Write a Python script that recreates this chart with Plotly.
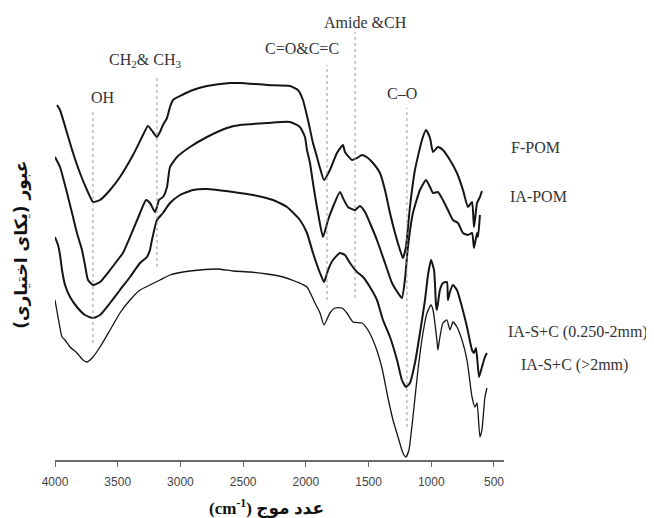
import plotly.graph_objects as go

# ---------------- data (wavenumber cm-1, offset transmittance a.u.) ----------------
wn_fpom = [3984, 3960, 3904, 3856, 3801, 3745, 3697, 3641, 3561, 3482, 3378, 3298, 3259, 3219,
           3187, 3163, 3139, 3107, 3083, 3059, 2987, 2900, 2788, 2605, 2525, 2310, 2126, 2063,
           2023, 1983, 1943, 1911, 1887, 1855, 1808, 1752, 1704, 1688, 1632, 1592, 1552, 1505,
           1465, 1409, 1369, 1329, 1289, 1249, 1226, 1202, 1170, 1130, 1074, 1042, 1010, 986,
           947, 907, 851, 795, 747, 707, 675, 659, 635, 612, 596]
t_fpom = [355, 350, 327, 307, 287, 270, 258, 260, 270, 283, 305, 325, 334, 328,
          323, 328, 335, 342, 353, 360, 365, 370, 374, 377, 377, 375, 374, 370,
          360, 340, 317, 303, 292, 280, 290, 307, 315, 308, 300, 302, 305, 302,
          297, 287, 270, 247, 227, 210, 202, 213, 253, 290, 320, 330, 322, 308,
          313, 310, 300, 287, 270, 253, 258, 233, 257, 263, 269]

wn_iapom = [4000, 3960, 3904, 3864, 3825, 3785, 3761, 3737, 3697, 3641, 3561, 3482, 3458, 3378,
            3322, 3274, 3243, 3203, 3187, 3171, 3139, 3107, 3083, 3027, 2924, 2788, 2629, 2525,
            2310, 2126, 2047, 2007, 1991, 1967, 1943, 1903, 1863, 1823, 1784, 1728, 1704, 1664,
            1608, 1568, 1528, 1489, 1433, 1369, 1313, 1265, 1234, 1210, 1186, 1146, 1090, 1042,
            1010, 986, 947, 907, 867, 827, 787, 747, 707, 675, 659, 635, 627, 612]
t_iapom = [303, 293, 267, 247, 227, 210, 195, 180, 175, 178, 190, 203, 207, 230,
           247, 260, 257, 248, 253, 260, 263, 273, 293, 303, 313, 323, 332, 335,
           337, 338, 333, 323, 310, 297, 277, 247, 223, 240, 253, 268, 262, 253,
           250, 254, 248, 237, 220, 197, 177, 167, 162, 180, 213, 247, 270, 280,
           273, 267, 268, 260, 250, 240, 237, 227, 225, 227, 212, 227, 223, 245]

wn_sc1 = [4000, 3976, 3960, 3944, 3920, 3880, 3825, 3761, 3697, 3641, 3561, 3482, 3402, 3322,
          3267, 3243, 3227, 3187, 3139, 3083, 3003, 2900, 2788, 2581, 2421, 2262, 2150, 2047,
          1991, 1943, 1887, 1855, 1823, 1784, 1728, 1688, 1648, 1592, 1544, 1489, 1433, 1385,
          1329, 1273, 1234, 1202, 1170, 1130, 1090, 1050, 1026, 1002, 978, 962, 955, 931,
          907, 875, 867, 851, 827, 795, 755, 715, 675, 659, 643, 619, 596, 572, 556]
t_sc1 = [223, 215, 205, 190, 175, 163, 153, 145, 142, 145, 157, 170, 183, 197,
         203, 210, 220, 240, 247, 257, 265, 270, 271, 268, 265, 260, 253, 240,
         227, 207, 187, 178, 190, 200, 207, 205, 197, 188, 183, 173, 160, 140,
         123, 100, 80, 73, 77, 97, 127, 160, 185, 200, 190, 155, 150, 170,
         177, 178, 160, 168, 175, 170, 153, 133, 110, 107, 112, 83, 93, 103, 107]

wn_sc2 = [4000, 3976, 3944, 3920, 3880, 3825, 3777, 3745, 3697, 3641, 3561, 3482, 3402, 3322,
          3243, 3163, 3083, 2979, 2844, 2708, 2581, 2445, 2310, 2182, 2071, 1991, 1927, 1887,
          1855, 1808, 1768, 1712, 1672, 1624, 1552, 1505, 1449, 1393, 1345, 1305, 1265, 1226,
          1202, 1178, 1146, 1106, 1066, 1034, 1002, 986, 955, 947, 931, 907, 875, 851,
          827, 795, 755, 715, 675, 651, 635, 612, 596, 572, 556]
t_sc2 = [160, 143, 123, 120, 113, 107, 100, 98, 103, 113, 130, 147, 160, 170,
         175, 180, 185, 188, 190, 191, 189, 188, 186, 183, 178, 173, 157, 147,
         135, 147, 152, 152, 147, 138, 137, 130, 115, 92, 62, 40, 23, 7,
         3, 10, 43, 90, 127, 147, 155, 150, 120, 110, 123, 137, 140, 130,
         138, 133, 120, 100, 63, 53, 57, 23, 30, 63, 72]

series_names = ["F-POM", "IA-POM", "IA-S+C (0.250-2mm)", "IA-S+C (>2mm)"]

# band markers: position (cm-1), line bottom / top (a.u.), label
band_pos = [3697, 3187, 1831, 1608, 1194]
band_low = [117, 193, 160, 162, 33]
band_high = [350, 385, 395, 428, 352]
band_labels = ["OH", "CH<sub>2</sub>& CH<sub>3</sub>", "C=O&C=C", "Amide &CH", "C\u2013O"]
band_label_x = [3617, 3282, 2031, 1528, 1234]
band_label_y = [363, 400, 412, 438, 367]

tick_vals = [4000, 3500, 3000, 2500, 2000, 1500, 1000, 500]

# ---------------- figure ----------------
fig = go.Figure()
xs = [wn_fpom, wn_iapom, wn_sc1, wn_sc2]
ys = [t_fpom, t_iapom, t_sc1, t_sc2]
widths = [2.0, 2.0, 2.0, 1.3]
for x, y, n, w in zip(xs, ys, series_names, widths):
    fig.add_trace(go.Scatter(x=x, y=y, mode="lines", name=n,
                             line=dict(color="#151515", width=w, shape="spline", smoothing=0.5),
                             showlegend=False, hoverinfo="skip"))

for p, lo, hi in zip(band_pos, band_low, band_high):
    fig.add_shape(type="line", x0=p, x1=p, y0=lo, y1=hi, xref="x", yref="y",
                  line=dict(color="#9a9a9a", width=1, dash="dot"))

serif = "Liberation Serif, Times New Roman, serif"
for t, bx, by in zip(band_labels, band_label_x, band_label_y):
    fig.add_annotation(x=bx, y=by, xref="x", yref="y", text=t, showarrow=False,
                       xanchor="center", yanchor="middle",
                       font=dict(family=serif, size=16, color="#333"))

# series labels on the right
label_px = [1.071, 1.076, 1.165, 1.158]
label_py = [0.692, 0.582, 0.283, 0.210]
for n, lx, ly in zip(series_names, label_px, label_py):
    fig.add_annotation(x=lx, y=ly, xref="paper", yref="paper", text=n.replace(">", "&gt;"),
                       showarrow=False, xanchor="center", yanchor="middle",
                       font=dict(family=serif, size=16, color="#333"))

# axis titles (Persian)
fig.add_annotation(x=0.472, y=-0.106, xref="paper", yref="paper", showarrow=False,
                   xanchor="center", yanchor="middle",
                   text="<b>(cm<sup>-1</sup>) \u0639\u062f\u062f \u0645\u0648\u062c</b>",
                   font=dict(family="Liberation Serif, DejaVu Sans", size=17, color="#111"))
fig.add_annotation(x=-0.0735, y=0.476, xref="paper", yref="paper", showarrow=False, textangle=-90,
                   xanchor="center", yanchor="middle",
                   text="<b>\u0639\u0628\u0648\u0631 (\u06cc\u06a9\u0627\u06cc \u0627\u062e\u062a\u06cc\u0627\u0631\u06cc)\u200f</b>",
                   font=dict(family="DejaVu Sans", size=17, color="#111"))

fig.update_xaxes(range=[4000, 420], showgrid=False, zeroline=False, showline=True,
                 linecolor="#6a6a6a", linewidth=1.5, ticks="outside", ticklen=5,
                 tickcolor="#6a6a6a", tickwidth=1.2, tickvals=tick_vals,
                 ticktext=[str(v) for v in tick_vals], ticklabelstandoff=5,
                 tickfont=dict(family="Liberation Sans Narrow, Arial Narrow, sans-serif", size=12, color="#444"))
fig.update_yaxes(range=[0, 452], visible=False)

# page body has an 8 px margin, so the figure is 8 px smaller on each side
fig.update_layout(width=646, height=510, margin=dict(l=47, r=150, t=0, b=58),
                  plot_bgcolor="white", paper_bgcolor="white")

fig.write_html("out.html")
